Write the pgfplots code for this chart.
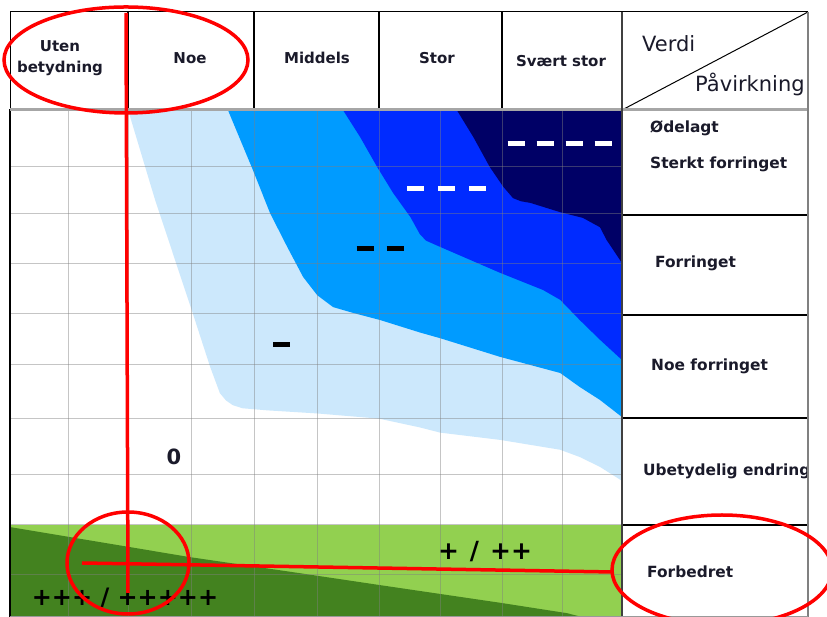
\documentclass[border=0pt]{standalone}
\usepackage{pgfplots}
\pgfplotsset{compat=1.18}
\usepackage{fontspec}
\setmainfont{DejaVu Sans}

\definecolor{lblue}{HTML}{CCE8FC}
\definecolor{mblue}{HTML}{009BFF}
\definecolor{sblue}{HTML}{002BFF}
\definecolor{navy}{HTML}{000066}
\definecolor{lgreen}{HTML}{92D050}
\definecolor{dgreen}{HTML}{43821F}
\definecolor{txt}{HTML}{1A1A2A}

\newcommand\hd{\fontsize{15}{18}\selectfont\bfseries}
\newcommand\rl{\fontsize{15.4}{18}\selectfont\bfseries}
\newcommand\dbar{\rule{17pt}{5pt}}

\begin{document}
\begin{tikzpicture}
\useasboundingbox (0,0) rectangle (827pt,617pt);
\clip (0,0) rectangle (827pt,617pt);
\fill[white] (0,0) rectangle (827pt,617pt);

\begin{axis}[
    at={(10pt,0pt)}, anchor=south west,
    scale only axis,
    width=612pt, height=507pt,
    xmin=0, xmax=10, ymin=0.226, ymax=10,
    xtick={0.95,1.93,2.97,3.99,5.02,6.03,7.04,8.04,9.02},
    ytick={1.04,2,2.98,4.06,5.09,6.07,7.04,8,8.92},
    xticklabels={}, yticklabels={},
    tick style={draw=none},
    grid=major,
    grid style={gray, opacity=0.45, line width=1pt},
    axis line style={black, line width=1pt},
    axis on top,
]

% green band (improved)
\addplot[fill=lgreen, draw=none] coordinates {
    (0,2) (10,2) (10,0) (0,0)} -- cycle;
\addplot[fill=dgreen, draw=none] coordinates {
    (0,1.96) (2.94,1.38) (4.74,1.07) (6.05,0.84) (8.01,0.50) (9.10,0.30)
    (9.60,0.15) (0,0.15)} -- cycle;

% light blue
\addplot[fill=lblue, draw=none] coordinates {
    (1.93,10) (2.37,8.27) (2.97,6.14) (3.27,5.05) (3.43,4.54) (3.53,4.40)
    (3.64,4.31) (3.80,4.25) (4.20,4.21) (5.02,4.15) (6.03,4.05) (6.70,3.88)
    (7.03,3.78) (8.01,3.64) (8.99,3.45) (9.31,3.31) (9.64,3.12) (10,2.85)
    (10,10)} -- cycle;

% medium blue
\addplot[fill=mblue, draw=none] coordinates {
    (3.56,10) (3.97,8.84) (4.25,8.01) (4.53,7.36) (4.79,6.78) (5.02,6.43)
    (5.28,6.20) (5.60,6.09) (6.05,5.95) (6.70,5.71) (7.03,5.60) (8.01,5.24)
    (8.99,4.93) (9.31,4.66) (9.64,4.41) (10,4.08) (10,10)} -- cycle;

% blue
\addplot[fill=sblue, draw=none] coordinates {
    (5.44,10) (5.72,9.48) (6.00,8.90) (6.26,8.40) (6.54,7.94) (6.70,7.60)
    (6.80,7.48) (7.03,7.36) (8.01,6.86) (8.71,6.53) (8.99,6.34) (9.31,5.95)
    (9.64,5.57) (10,5.18) (10,10)} -- cycle;

% navy
\addplot[fill=navy, draw=none] coordinates {
    (7.30,10) (7.57,9.48) (7.84,8.90) (8.06,8.52) (8.22,8.30) (8.35,8.24)
    (8.50,8.21) (8.99,8.03) (9.36,7.92) (9.64,7.74) (9.75,7.49) (10,7.05)
    (10,10)} -- cycle;
\end{axis}

\begin{scope}[x=1pt, y=1pt]
% labels in the field
\node[txt, font=\fontsize{21}{24}\selectfont\bfseries] at (174,160) {0};
\node[inner sep=0, black] at (281.5,272.5) {\dbar};
\node[inner sep=0, black] at (380,368) {\dbar\hspace{13pt}\dbar};
\node[inner sep=0, white] at (446.5,428) {\dbar\hspace{14pt}\dbar\hspace{14pt}\dbar};
\node[inner sep=0, white] at (559.5,473) {\dbar\hspace{12pt}\dbar\hspace{12pt}\dbar\hspace{12pt}\dbar};
\node[black, font=\fontsize{25}{28}\selectfont\bfseries] at (485,65) {+\hspace{11pt}/\hspace{11pt}++};
\node[black, font=\fontsize{24}{28}\selectfont\bfseries] at (125,19) {+++ / +++++};

% table frame
\draw[black, line width=1pt] (10,605) -- (808,605);
\draw[black, line width=1pt] (10,605) -- (10,0);
\foreach \x in {128,254,379,502}
  \draw[black, line width=1.2pt] (\x,605) -- (\x,507);
\foreach \y in {402,302,199,92}
  \draw[black, line width=1.2pt] (622,\y) -- (808,\y);
\draw[black, line width=1pt] (622,507) -- (808,605);

% header text
\node[txt, font=\hd, anchor=base] at (60,565) {Uten};
\node[txt, font=\hd, anchor=base] at (60,544) {betydning};
\node[txt, font=\hd, anchor=base] at (190,553) {Noe};
\node[txt, font=\hd, anchor=base] at (317,553) {Middels};
\node[txt, font=\hd, anchor=base] at (437,553) {Stor};
\node[txt, font=\hd, anchor=base] at (561,550) {Svært stor};
\node[txt, font=\fontsize{21}{24}\selectfont, anchor=base west, inner sep=0] at (642,565) {Verdi};
\node[txt, font=\fontsize{21}{24}\selectfont, anchor=base west, inner sep=0] at (695,525) {Påvirkning};

% row labels
\node[txt, font=\rl, anchor=base west, inner sep=0] at (650,484) {Ødelagt};
\node[txt, font=\rl, anchor=base west, inner sep=0] at (650,448) {Sterkt forringet};
\node[txt, font=\rl, anchor=base west, inner sep=0] at (655,349) {Forringet};
\node[txt, font=\rl, anchor=base west, inner sep=0] at (651,246) {Noe forringet};
\node[txt, font=\rl, anchor=base west, inner sep=0] at (643,141) {Ubetydelig endring};
\node[txt, font=\rl, anchor=base west, inner sep=0] at (647,39) {Forbedret};

\fill[white] (809,0) rectangle (827,617);
\draw[gray!70, line width=3pt] (10,507) -- (808,507);
\draw[black!75, line width=2pt] (622,605) -- (622,0);
\draw[gray, line width=1.5pt] (808,605) -- (808,0);
\draw[gray!80, line width=1.5pt] (10,0.5) -- (808,0.5);

% red annotations
\begin{scope}[red, line width=3.5pt]
\draw (126,557) ellipse [x radius=122, y radius=53];
\draw (126,604) -- (128,24);
\draw (128,54) ellipse [x radius=61, y radius=51];
\draw (82,54) -- (613,45);
\draw (722,47) ellipse [x radius=110, y radius=55];
\end{scope}
\end{scope}
\end{tikzpicture}
\end{document}
